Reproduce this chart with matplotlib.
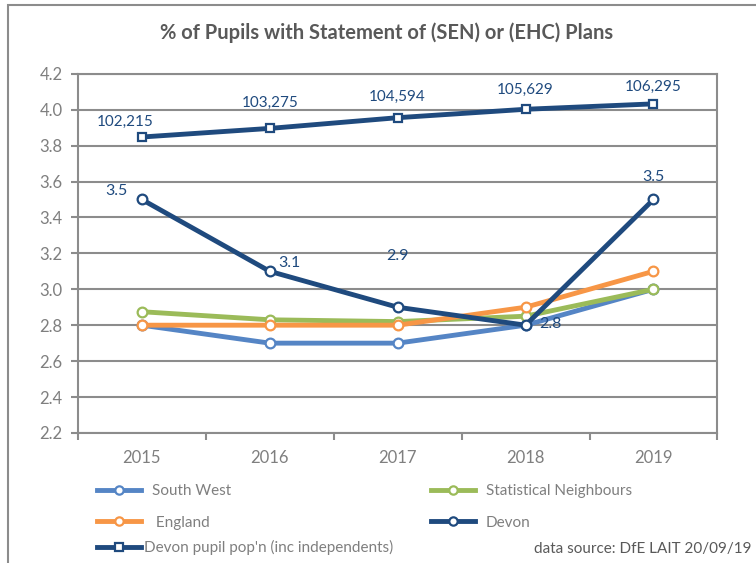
import matplotlib.pyplot as plt
from matplotlib.lines import Line2D
from matplotlib.patches import Rectangle

plt.rcParams['font.family'] = ['Lato', 'DejaVu Sans']

# data
years = ['2015', '2016', '2017', '2018', '2019']
south_west = [2.8, 2.7, 2.7, 2.8, 3.0]
stat_neighbours = [2.875, 2.83, 2.82, 2.85, 3.0]
england = [2.8, 2.8, 2.8, 2.9, 3.1]
devon = [3.5, 3.1, 2.9, 2.8, 3.5]
devon_pop = [102215, 103275, 104594, 105629, 106295]
pop_labels = ['102,215', '103,275', '104,594', '105,629', '106,295']

c_sw = '#5585C5'
c_eng = '#F79646'
c_sn = '#9BBB59'
c_devon = '#1F4A7E'
c_grid = '#8C8C8C'
c_text = '#7F7F7F'

x = list(range(len(years)))

fig = plt.figure(figsize=(7.56, 5.63), dpi=100)
ax = fig.add_axes([0.103, 0.231, 0.846, 0.638])

# outer chart border
fig.add_artist(Rectangle((8 / 756, -0.1), 1.0, 1 - 5 / 563 + 0.1,
                         transform=fig.transFigure, fill=False,
                         edgecolor='#8C8C8C', lw=1.5))

mk = dict(marker='o', markersize=7, markerfacecolor='white', markeredgewidth=1.6)
ax.plot(x, south_west, color=c_sw, lw=3.5, markeredgecolor=c_sw, zorder=3, **mk)
ax.plot(x, stat_neighbours, color=c_sn, lw=3.5, markeredgecolor=c_sn, zorder=3, **mk)
ax.plot(x, england, color=c_eng, lw=3.5, markeredgecolor=c_eng, zorder=4, **mk)
ax.plot(x, devon, color=c_devon, lw=3.5, markeredgecolor=c_devon, zorder=5, **mk)

ax.set_ylim(2.2, 4.2)
ax.set_xlim(-0.5, 4.5)
ax.set_yticks([2.2 + 0.2 * i for i in range(11)])
ax.set_yticklabels([f'{2.2 + 0.2 * i:.1f}' for i in range(11)])
ax.set_xticks(x)
ax.set_xticklabels(years)
ax.set_xticks([i - 0.5 for i in range(6)], minor=True)
ax.tick_params(axis='x', which='major', length=0, pad=12, labelsize=12, labelcolor=c_text)
ax.tick_params(axis='x', which='minor', length=5, width=1.5, color=c_grid, direction='out')
ax.tick_params(axis='y', length=5, width=1.5, color=c_grid, labelsize=12,
               labelcolor=c_text, pad=6)
ax.grid(axis='y', color=c_grid, lw=1.5)
ax.set_axisbelow(True)
for s in ax.spines.values():
    s.set_color(c_grid)
    s.set_linewidth(1.5)

# Devon data labels
devon_offsets = [(-18, 1), (14, 1), (0, 32), (18, -4), (0, 11)]
for xi, v, (dx, dy) in zip(x, devon, devon_offsets):
    ax.annotate(f'{v:.1f}', (xi, v), xytext=(dx, dy), textcoords='offset points',
                ha='center', va='bottom', color=c_devon, fontsize=11.5, zorder=6)

# pupil population on a hidden secondary axis
ax2 = ax.twinx()
ax2.set_ylim(65800, 110000)
ax2.plot(x, devon_pop, color=c_devon, lw=3.5, marker='s', markersize=6,
         markerfacecolor='white', markeredgecolor=c_devon, markeredgewidth=1.6)
pop_offsets = [(-12, 6), (0, 13), (0, 10), (0, 9), (0, 7)]
for xi, v, lab, (dx, dy) in zip(x, devon_pop, pop_labels, pop_offsets):
    ax2.annotate(lab, (xi, v), xytext=(dx, dy), textcoords='offset points',
                 ha='center', va='bottom', color=c_devon, fontsize=11)
ax2.set_yticks([])
for s in ax2.spines.values():
    s.set_visible(False)

fig.text(387 / 756, 1 - 33 / 563, '% of Pupils with Statement of (SEN) or (EHC) Plans',
         ha='center', va='center', fontsize=14.5, fontweight='bold', color='#595959')


def handle(color, marker='o'):
    return Line2D([], [], color=color, lw=3.5, marker=marker, markersize=6,
                  markerfacecolor='white', markeredgecolor=color, markeredgewidth=1.6)


leg_kw = dict(frameon=False, fontsize=11, labelcolor=c_text, handlelength=2.9,
              handletextpad=0.7, labelspacing=1.15, borderaxespad=0, borderpad=0)
leg1 = fig.legend([handle(c_sw), handle(c_eng)], ['South West', ' England'],
                  loc='upper left', bbox_to_anchor=(97 / 756, 1 - 484 / 563), **leg_kw)
leg2 = fig.legend([handle(c_sn), handle(c_devon)], ['Statistical Neighbours', 'Devon'],
                  loc='upper left', bbox_to_anchor=(431 / 756, 1 - 484 / 563), **leg_kw)
leg_kw['handletextpad'] = 0.15
leg3 = fig.legend([handle(c_devon, 's')], ["Devon pupil pop'n (inc independents)"],
                  loc='upper left', bbox_to_anchor=(97 / 756, 1 - 540 / 563), **leg_kw)

fig.text(751 / 756, 1 - 549 / 563, 'data source: DfE LAIT 20/09/19',
         ha='right', va='center', fontsize=11, color='#595959')

fig.savefig('out.png', dpi=100)
